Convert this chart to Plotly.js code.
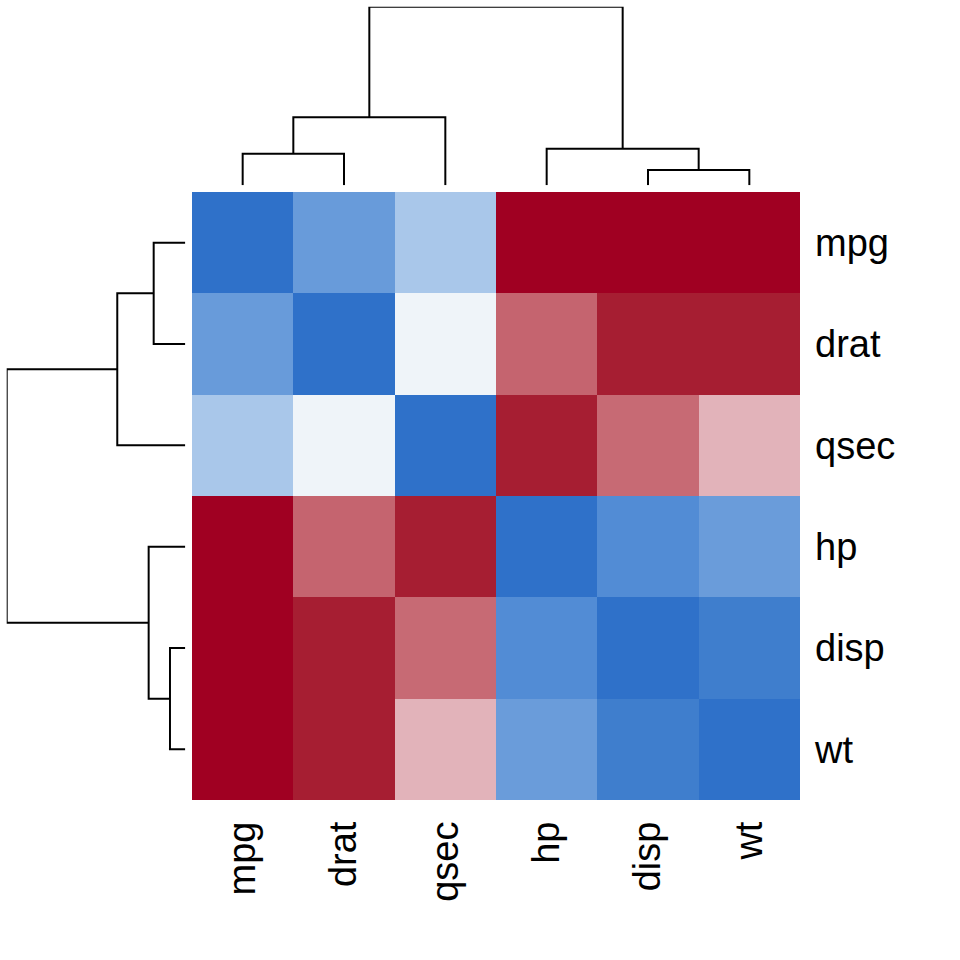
<!DOCTYPE html>
<html>
<head>
<meta charset="utf-8">
<script src="https://cdn.plot.ly/plotly-3.0.1.min.js"></script>
<style>
  html, body { margin: 0; padding: 0; background: #fff; }
  #chart { width: 960px; height: 960px; }
</style>
</head>
<body>
<div id="chart"></div>
<script>
// Variables in dendrogram (display) order
const vars = ["mpg", "drat", "qsec", "hp", "disp", "wt"];

// Correlation matrix, rows/cols in the order above
const corrMpg  = [ 1.00,  0.68,  0.42, -0.78, -0.85, -0.87];
const corrDrat = [ 0.68,  1.00,  0.09, -0.45, -0.71, -0.71];
const corrQsec = [ 0.42,  0.09,  1.00, -0.71, -0.43, -0.17];
const corrHp   = [-0.78, -0.45, -0.71,  1.00,  0.79,  0.66];
const corrDisp = [-0.85, -0.71, -0.43,  0.79,  1.00,  0.89];
const corrWt   = [-0.87, -0.71, -0.17,  0.66,  0.89,  1.00];
const corr = [corrMpg, corrDrat, corrQsec, corrHp, corrDisp, corrWt];

// Hierarchical clustering (complete linkage), hclust-style merge table:
// negative = leaf (1-based position in vars), positive = earlier merge step
const mergeA = [-5, -1, -4, 2, 4];
const mergeB = [-6, -2,  1, -3, 3];
const mergeHeight = [0.333, 0.687, 0.796, 1.478, 3.88];

// Colour stops for the correlation scale
const stopValues = [-1.00, -0.78, -0.71, -0.45, -0.17, 0.00, 0.09, 0.42, 0.66, 0.68, 0.79, 0.89, 1.00];
const stopColors = ["#A00022", "#A00022", "#A61E32", "#C5646F", "#E2B3BA", "#F7F4F6",
                    "#EFF4F9", "#A9C7EA", "#6A9CDA", "#689BDA", "#528CD5", "#3F7ECD", "#2F71C9"];

const colorscale = stopValues.map((v, i) => [(v + 1) / 2, stopColors[i]]);

// Build dendrogram segments: returns arrays along the leaf axis and height axis
function dendroSegments() {
  const nodePos = [], nodeH = [];
  const pos = id => id < 0 ? (-id - 1) : nodePos[id - 1];
  const hgt = id => id < 0 ? 0 : nodeH[id - 1];
  const p = [], h = [];
  for (let i = 0; i < mergeA.length; i++) {
    const a = mergeA[i], b = mergeB[i], H = mergeHeight[i];
    const pa = pos(a), pb = pos(b);
    p.push(pa, pa, pb, pb, null);
    h.push(hgt(a), H, H, hgt(b), null);
    nodePos.push((pa + pb) / 2);
    nodeH.push(H);
  }
  return { p, h };
}
const seg = dendroSegments();
const idx = vars.map((_, i) => i);

const heat = {
  type: "heatmap",
  x: idx, y: idx, z: corr,
  zmin: -1, zmax: 1,
  colorscale: colorscale,
  showscale: false,
  xgap: 0, ygap: 0,
  hoverinfo: "skip",
  xaxis: "x", yaxis: "y"
};

const lineStyle = { color: "#000000", width: 2 };

const topDendro = {
  type: "scatter", mode: "lines",
  x: seg.p, y: seg.h,
  line: lineStyle, hoverinfo: "skip", connectgaps: false,
  xaxis: "x", yaxis: "y2"
};

const leftDendro = {
  type: "scatter", mode: "lines",
  x: seg.h, y: seg.p,
  line: lineStyle, hoverinfo: "skip", connectgaps: false,
  xaxis: "x2", yaxis: "y"
};

const labelFont = { family: "Liberation Sans, Arial, sans-serif", size: 38, color: "#000000" };
const hMax = Math.max(...mergeHeight);

const layout = {
  width: 960, height: 960,
  margin: { l: 0, r: 0, t: 0, b: 0 },
  paper_bgcolor: "#ffffff", plot_bgcolor: "rgba(0,0,0,0)",
  showlegend: false,
  xaxis: {
    domain: [192 / 960, 800 / 960],
    range: [-0.5, 5.5],
    tickmode: "array", tickvals: idx, ticktext: vars,
    tickangle: -90, tickfont: labelFont,
    ticks: "", ticklabelstandoff: 13,
    showgrid: false, zeroline: false, showline: false,
    anchor: "y"
  },
  yaxis: {
    domain: [160 / 960, 768 / 960],
    range: [5.5, -0.5],
    tickmode: "array", tickvals: idx, ticktext: vars,
    side: "right", tickfont: labelFont,
    ticks: "", ticklabelstandoff: 14,
    showgrid: false, zeroline: false, showline: false,
    anchor: "x"
  },
  yaxis2: {
    domain: [(960 - 185.3) / 960, (960 - 6.7) / 960],
    range: [0, hMax],
    showticklabels: false, showgrid: false, zeroline: false, showline: false,
    anchor: "x"
  },
  xaxis2: {
    domain: [6.7 / 960, 185.3 / 960],
    range: [hMax, 0],
    showticklabels: false, showgrid: false, zeroline: false, showline: false,
    anchor: "y"
  }
};

Plotly.newPlot("chart", [heat, topDendro, leftDendro], layout, { staticPlot: true, displayModeBar: false });
</script>
</body>
</html>
